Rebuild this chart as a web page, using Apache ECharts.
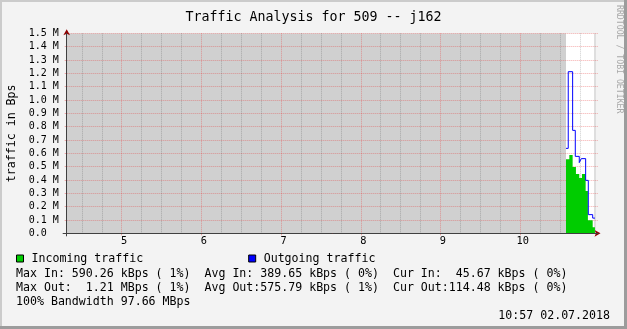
<!DOCTYPE html>
<html>
<head>
<meta charset="utf-8">
<script src="https://cdn.jsdelivr.net/npm/echarts@6/dist/echarts.min.js"></script>
<style>
html,body{margin:0;padding:0;background:#f3f3f3;}
#c{width:627px;height:329px;}
</style>
</head>
<body>
<div id="c"></div>
<script>
// ---- data (time in minutes after midnight, values in MBps) ----
const titleText = 'Traffic Analysis for 509 -- j162';
const timeMin = 258.6;
const timeMax = 658.6;
const hourTicks = [300, 360, 420, 480, 540, 600];
const quarterTicks = [270, 285, 315, 330, 345, 375, 390, 405, 435, 450, 465,
                      495, 510, 525, 555, 570, 585, 615, 630, 645];
const unknownSpan = [258.6, 634.5];
const dataSpan = [634.5, 656.3];
const inTimes = [634.5, 637.0, 639.5, 642.0, 644.5, 646.5, 649.3, 651.0, 654.6, 656.3];
const inValues = [0.555, 0.588, 0.497, 0.445, 0.415, 0.445, 0.317, 0.097, 0.046];
const outTimes = [634.5, 636.2, 639.5, 641.5, 644.5, 646.0, 649.3, 651.3, 654.6, 656.3];
const outValues = [0.637, 1.212, 0.772, 0.577, 0.530, 0.560, 0.397, 0.140, 0.114];
const yMax = 1.5;
const statLines = [
  'Max In: 590.26 kBps ( 1%)  Avg In: 389.65 kBps ( 0%)  Cur In:  45.67 kBps ( 0%)',
  'Max Out:  1.21 MBps ( 1%)  Avg Out:575.79 kBps ( 1%)  Cur Out:114.48 kBps ( 0%)',
  '100% Bandwidth 97.66 MBps'
];
const timestamp = '10:57 02.07.2018';
const watermark = 'RRDTOOL / TOBI OETIKER';

// ---- helpers ----
const FONT = '"DejaVu Sans Mono", monospace';
const gridRed = 'rgba(230,60,60,0.42)';
const gridGray = 'rgba(0,0,0,0.2)';
function stepData(times, values) {
  return times.map((t, i) => [t, values[Math.min(i, values.length - 1)]]);
}

const chart = echarts.init(document.getElementById('c'), null, {renderer: 'canvas'});

const xBase = {type: 'value', min: timeMin, max: timeMax, position: 'bottom', gridIndex: 0};
const yBase = {type: 'value', min: 0, max: yMax, position: 'left', gridIndex: 0};

const option = {
  backgroundColor: '#f3f3f3',
  animation: false,
  title: {
    text: titleText, left: 'center', top: 6,
    textStyle: {fontFamily: FONT, fontSize: 13.3, fontWeight: 'normal', color: '#000'}
  },
  legend: {
    left: 16, top: 252.5, padding: 0, itemWidth: 7, itemHeight: 7, itemGap: 105, icon: 'rect',
    itemStyle: {borderColor: '#000', borderWidth: 1},
    textStyle: {fontFamily: FONT, fontSize: 11.6, color: '#000', padding: [0, 0, 0, 3]},
    data: ['Incoming traffic', 'Outgoing traffic'],
    selectedMode: false
  },
  grid: {left: 66.7, top: 33.3, width: 531.3, height: 200, containLabel: false, outerBoundsMode: 'none'},
  xAxis: [
    Object.assign({}, xBase, {
      z: 1,
      axisLine: {show: false, onZero: false},
      axisTick: {show: true, customValues: quarterTicks, length: 1, lineStyle: {color: 'rgba(0,0,0,0)'}},
      splitLine: {show: true, lineStyle: {color: gridGray, type: [1, 1], width: 1}},
      axisLabel: {customValues: hourTicks, formatter: v => String(v / 60), margin: 3,
                  padding: [0, 0, 0, 5],
                  fontFamily: FONT, fontSize: 10.3, color: '#000'}
    }),
    Object.assign({}, xBase, {
      z: 1,
      axisLine: {show: true, onZero: false, symbol: ['none', 'arrow'], symbolSize: [5, 6],
                 symbolOffset: [0, 2.5], lineStyle: {color: '#900000'}},
      axisTick: {show: true, customValues: hourTicks, length: 2, lineStyle: {color: gridRed}},
      splitLine: {show: true, lineStyle: {color: gridRed, type: [1, 1], width: 1}},
      axisLabel: {show: false}
    }),
    Object.assign({}, xBase, {
      z: 6,
      axisLine: {show: true, onZero: false, lineStyle: {color: '#404040'}},
      axisTick: {show: true, customValues: [timeMin], length: 3, lineStyle: {color: '#404040'}},
      splitLine: {show: false},
      axisLabel: {show: false}
    })
  ],
  yAxis: [
    Object.assign({}, yBase, {
      interval: 0.1, z: 1,
      name: 'traffic in Bps', nameLocation: 'middle', nameGap: 49, nameRotate: 90,
      nameTextStyle: {fontFamily: FONT, fontSize: 11.6, color: '#000'},
      axisLine: {show: false, onZero: false},
      axisTick: {show: true, length: 2, lineStyle: {color: gridRed}},
      splitLine: {show: true, lineStyle: {color: gridRed, type: [1, 1], width: 1}},
      axisLabel: {formatter: v => (v === 0 ? '0.0' : v.toFixed(1) + ' M'), align: 'left',
                  margin: 38, fontFamily: FONT, fontSize: 10, color: '#000'}
    }),
    Object.assign({}, yBase, {
      z: 1,
      axisLine: {show: true, onZero: false, symbol: ['none', 'arrow'], symbolSize: [5, 6],
                 symbolOffset: [0, 4], lineStyle: {color: '#900000'}},
      axisTick: {show: false}, splitLine: {show: false}, axisLabel: {show: false}
    }),
    Object.assign({}, yBase, {
      z: 6,
      axisLine: {show: true, onZero: false, lineStyle: {color: '#404040'}},
      axisTick: {show: true, customValues: [0], length: 4, lineStyle: {color: '#404040'}},
      splitLine: {show: false}, axisLabel: {show: false}
    })
  ],
  series: [
    {
      name: 'unknown', type: 'line', xAxisIndex: 0, yAxisIndex: 0, z: 0, silent: true,
      symbol: 'none', data: unknownSpan.map(t => [t, yMax]),
      lineStyle: {width: 0}, areaStyle: {color: '#d0d0d0', opacity: 1}
    },
    {
      name: 'window', type: 'line', xAxisIndex: 0, yAxisIndex: 0, z: 0, silent: true,
      symbol: 'none', data: dataSpan.map(t => [t, yMax]),
      lineStyle: {width: 0}, areaStyle: {color: '#ffffff', opacity: 1}
    },
    {
      name: 'end', type: 'line', xAxisIndex: 0, yAxisIndex: 0, z: 0, silent: true,
      symbol: 'none', data: [[dataSpan[1], 0], [dataSpan[1], yMax]],
      lineStyle: {width: 1, color: '#c4c4c4'}
    },
    {
      name: 'Incoming traffic', type: 'line', step: 'end', xAxisIndex: 0, yAxisIndex: 0, z: 3,
      symbol: 'none', color: '#00cc00', itemStyle: {color: '#00cc00'},
      data: stepData(inTimes, inValues),
      lineStyle: {width: 0}, areaStyle: {color: '#00cc00', opacity: 1}
    },
    {
      name: 'Outgoing traffic', type: 'line', step: 'end', xAxisIndex: 0, yAxisIndex: 0, z: 4,
      symbol: 'none', color: '#0000ff', itemStyle: {color: '#0000ff'},
      data: stepData(outTimes, outValues),
      lineStyle: {width: 1, color: '#0000ff'}
    }
  ],
  graphic: [
    {type: 'text', x: 16, y: 273.5, style: {text: statLines[0], font: '11.6px ' + FONT, fill: '#000', verticalAlign: 'middle'}},
    {type: 'text', x: 16, y: 287.5, style: {text: statLines[1], font: '11.6px ' + FONT, fill: '#000', verticalAlign: 'middle'}},
    {type: 'text', x: 16, y: 301.5, style: {text: statLines[2], font: '11.6px ' + FONT, fill: '#000', verticalAlign: 'middle'}},
    {type: 'text', x: 610, y: 316, style: {text: timestamp, font: '11.6px ' + FONT, fill: '#000', align: 'right', verticalAlign: 'middle'}},
    {type: 'text', x: 619, y: 5, rotation: -Math.PI / 2, style: {text: watermark, font: '8.2px ' + FONT, fill: '#a8a8a8', align: 'left', verticalAlign: 'middle'}},
    {type: 'rect', shape: {x: 0, y: 0, width: 627, height: 2}, style: {fill: '#cbcbcb'}, silent: true},
    {type: 'rect', shape: {x: 0, y: 0, width: 2, height: 329}, style: {fill: '#cbcbcb'}, silent: true},
    {type: 'rect', shape: {x: 624, y: 0, width: 3, height: 329}, style: {fill: '#9c9c9c'}, silent: true},
    {type: 'rect', shape: {x: 0, y: 326, width: 627, height: 3}, style: {fill: '#9c9c9c'}, silent: true}
  ]
};
chart.setOption(option);
</script>
</body>
</html>
